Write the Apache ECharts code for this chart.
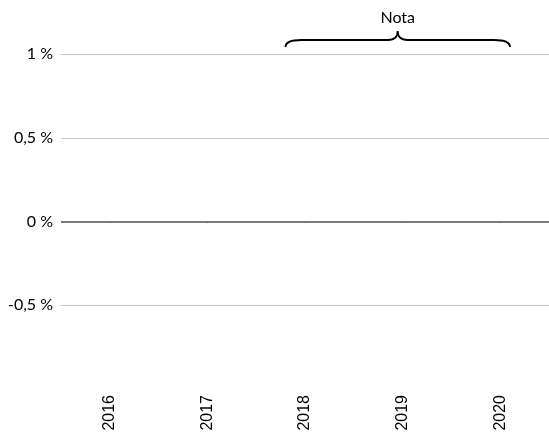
<!DOCTYPE html>
<html>
<head>
<meta charset="utf-8">
<script src="https://cdn.jsdelivr.net/npm/echarts@6/dist/echarts.min.js"></script>
<style>
  html, body { margin: 0; padding: 0; background: #fff; }
  #chart { width: 549px; height: 434px; }
</style>
</head>
<body>
<div id="chart"></div>
<script>
// categorías del eje x
const years = ['2016', '2017', '2018', '2019', '2020']
// escala del eje y (en %)
const yMin = -1
const yMax = 1
const yStep = 0.5
// anotación con llave sobre un tramo de años
const noteFrom = '2018'
const noteTo = '2020'
const noteText = 'Nota'

const chart = echarts.init(document.getElementById('chart'))

// la llave se dibuja con las coordenadas del propio eje
function renderBrace (params, api) {
  const a = api.coord([years.indexOf(noteFrom), yMax])
  const b = api.coord([years.indexOf(noteTo), yMax])
  const bw = api.size([1, 0])[0]
  const x1 = a[0] - 0.2 * bw
  const x2 = b[0] + 0.1 * bw
  const xm = (x1 + x2) / 2
  const yEnd = a[1] - 7
  const yLine = a[1] - 14
  const yPeak = a[1] - 23
  const r = 10
  const path =
    'M' + x1 + ' ' + yEnd +
    ' Q' + x1 + ' ' + yLine + ' ' + (x1 + r * 1.6) + ' ' + yLine +
    ' L' + (xm - r) + ' ' + yLine +
    ' Q' + xm + ' ' + yLine + ' ' + xm + ' ' + yPeak +
    ' Q' + xm + ' ' + yLine + ' ' + (xm + r) + ' ' + yLine +
    ' L' + (x2 - r * 1.6) + ' ' + yLine +
    ' Q' + x2 + ' ' + yLine + ' ' + x2 + ' ' + yEnd
  return {
    type: 'group',
    children: [
      {
        type: 'path',
        shape: { pathData: path },
        style: { fill: null, stroke: '#000', lineWidth: 1.8 }
      },
      {
        type: 'text',
        style: {
          text: noteText,
          x: xm,
          y: a[1] - 36,
          align: 'center',
          verticalAlign: 'middle',
          fill: '#000',
          font: '16px Lato, "Open Sans", sans-serif'
        }
      }
    ]
  }
}

const option = {
  animation: false,
  grid: {
    left: 61,
    top: 54,
    width: 494,
    height: 335
  },
  xAxis: {
    type: 'category',
    data: years,
    axisLine: { show: false },
    axisTick: {
      show: true,
      alignWithLabel: true,
      length: 2,
      lineStyle: { color: '#d9d9d9' }
    },
    axisLabel: {
      rotate: 90,
      margin: 6,
      color: '#000',
      fontSize: 16,
      fontFamily: '"Liberation Sans", Arial, sans-serif'
    }
  },
  yAxis: {
    type: 'value',
    min: yMin,
    max: yMax,
    interval: yStep,
    axisLine: { show: false },
    axisTick: { show: false },
    axisLabel: {
      margin: 8,
      color: '#000',
      fontSize: 16,
      fontFamily: 'Lato, "Open Sans", sans-serif',
      formatter: v => v === yMin ? '' : String(v).replace('.', ',') + ' %'
    },
    splitLine: {
      lineStyle: {
        color: ['rgba(0,0,0,0)', '#c6c6c6', '#c6c6c6', '#c6c6c6', '#c6c6c6'],
        width: 1
      }
    }
  },
  series: [{
    type: 'custom',
    renderItem: renderBrace,
    data: [[years.indexOf(noteFrom), yMax]],
    clip: false,
    silent: true,
    markLine: {
      silent: true,
      symbol: 'none',
      label: { show: false },
      lineStyle: { color: '#595959', width: 1.6, type: 'solid' },
      data: [{ yAxis: 0 }]
    }
  }]
}
chart.setOption(option)
</script>
</body>
</html>
